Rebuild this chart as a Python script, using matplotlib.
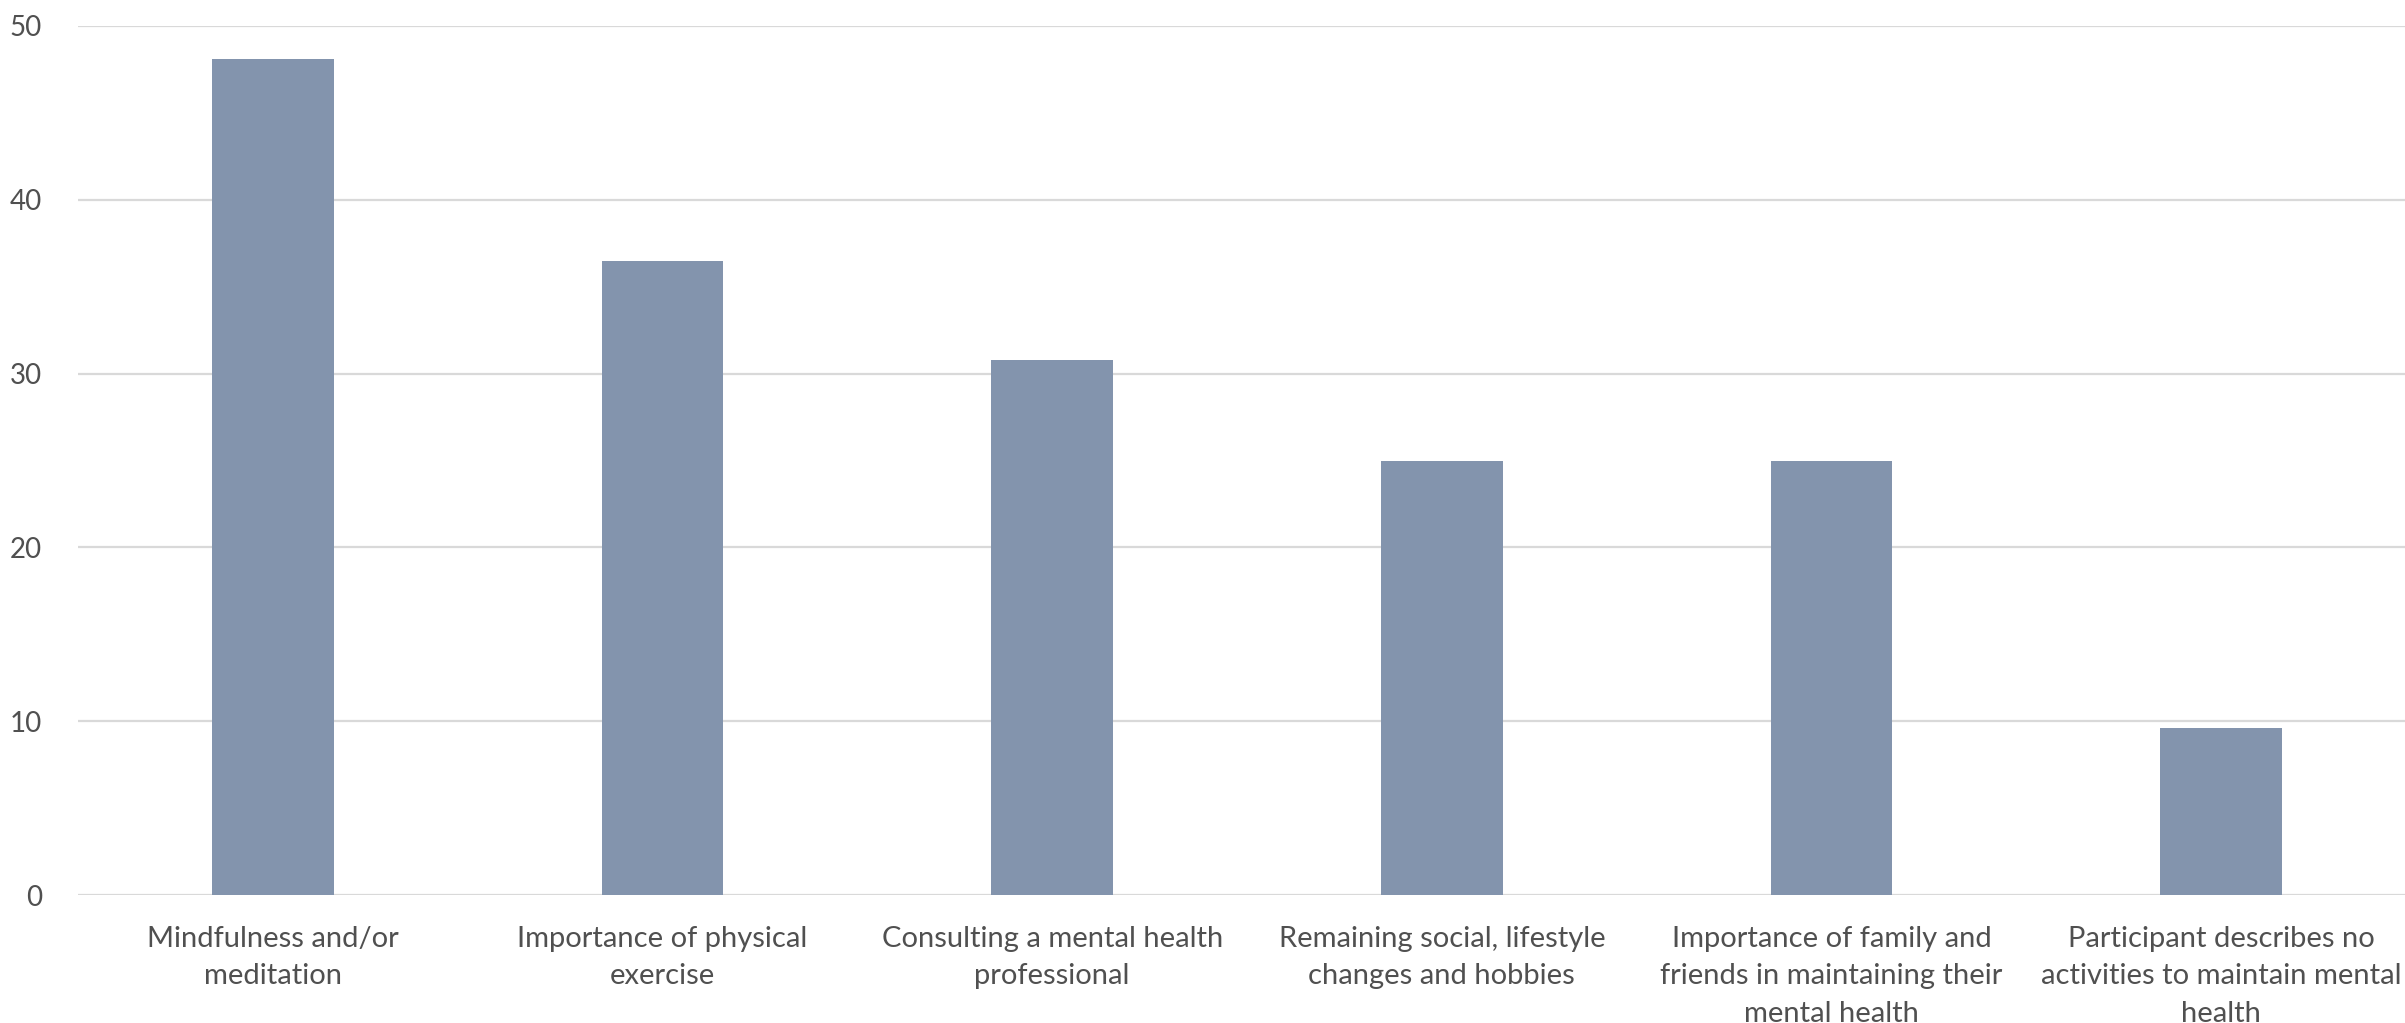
import matplotlib
matplotlib.use("Agg")
import matplotlib.pyplot as plt
import numpy as np

categories = [
    "Mindfulness and/or\nmeditation",
    "Importance of physical\nexercise",
    "Consulting a mental health\nprofessional",
    "Remaining social, lifestyle\nchanges and hobbies",
    "Importance of family and\nfriends in maintaining their\nmental health",
    "Participant describes no\nactivities to maintain mental\nhealth",
]
values = [48.1, 36.5, 30.8, 25.0, 25.0, 9.6]
yticks = [0, 10, 20, 30, 40, 50]

plt.rcParams['font.family'] = ['Lato', 'DejaVu Sans']

W, H = 2405, 1023
fig = plt.figure(figsize=(W / 100, H / 100), dpi=100)
left_px, right_px = 78, 2416
top_px, bottom_px = 26, 895
ax = fig.add_axes([left_px / W, 1 - bottom_px / H,
                   (right_px - left_px) / W, (bottom_px - top_px) / H])

x = np.arange(len(categories))
ax.bar(x, values, width=0.313, color='#8394ad', zorder=3)

ax.set_xlim(-0.5, len(categories) - 0.5)
ax.set_ylim(0, 50)
ax.set_yticks(yticks)
ax.set_xticks(x)
ax.set_xticklabels(categories, fontsize=21, color='#505050', linespacing=1.55)
ax.tick_params(axis='y', labelsize=20, labelcolor='#505050', length=0, pad=26)
ax.tick_params(axis='x', length=0, pad=22)
ax.yaxis.grid(True, color='#d9d9d9', linewidth=1.6, zorder=0)
for s in ax.spines.values():
    s.set_visible(False)

fig.savefig("out.png", dpi=100)
